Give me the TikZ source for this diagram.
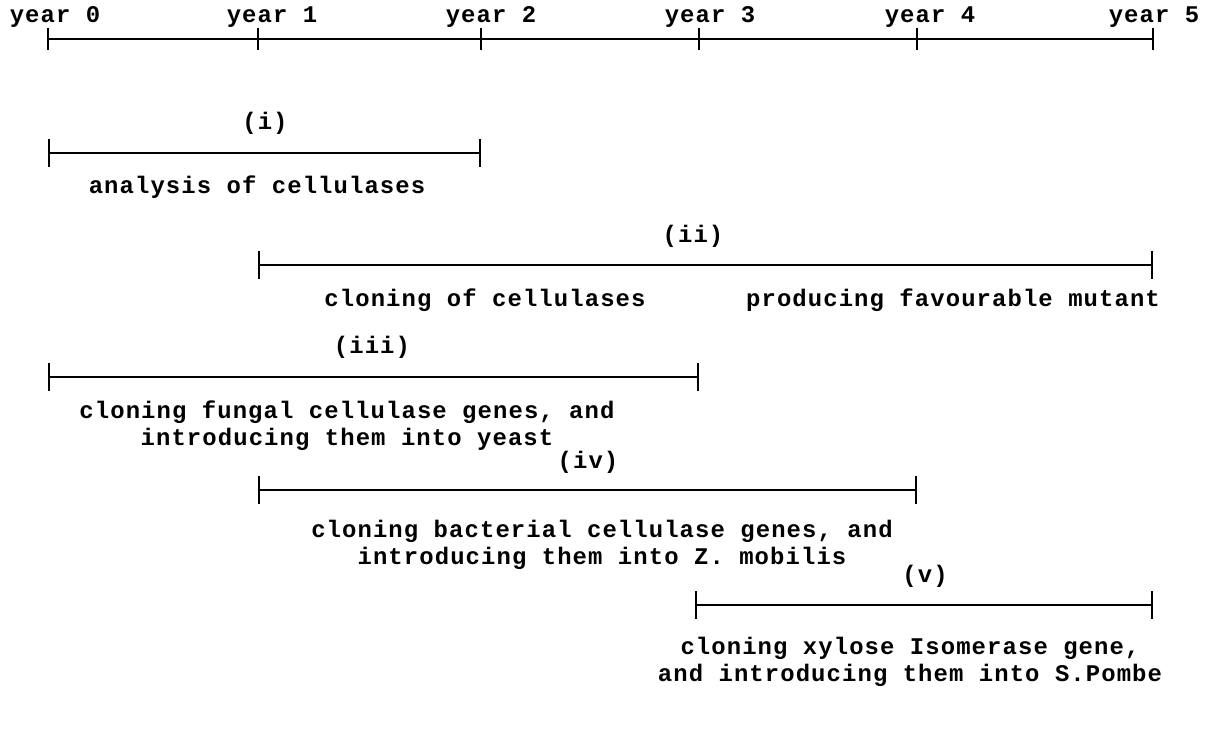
\documentclass[tikz,border=0pt]{standalone}
\usepackage{fontspec}
\setmonofont[LetterSpace=4.6]{Liberation Mono}
\usetikzlibrary{positioning, arrows.meta}

\tikzset{
  period/.style={{Bar[width=7mm]}-{Bar[width=7mm]}, line width=1.5pt},
  typed/.style={font=\ttfamily\bfseries\fontsize{17}{19}\selectfont, inner sep=0pt, align=center},
}

\begin{document}
\begin{tikzpicture}[x=0.025cm, y=-0.025cm]
\useasboundingbox (0,0) rectangle (1208,748);

% time axis
\foreach \n/\x/\lx in {0/48/55, 1/258/272, 2/481/491, 3/699/710, 4/917/930, 5/1153/1154} {
  \coordinate (y\n) at (\x,39);
  \node[typed] (yl\n) at (\lx,17) {year \n};
}
\draw[line width=1.5pt] (y0) -- (y5);
\foreach \n in {0,...,5}
  \draw[line width=1.5pt] ([yshift=8pt]y\n) -- ([yshift=-8pt]y\n);

% (i)
\coordinate (p1s) at (48,153);
\coordinate (p1e) at (481,153);
\draw[period] (p1s) -- (p1e);
\node[typed] (p1n) at (265,123) {(i)};
\node[typed] (p1t) at (257,187) {analysis of cellulases};

% (ii)
\coordinate (p2s) at (258,265);
\coordinate (p2e) at (1153,265);
\draw[period] (p2s) -- (p2e);
\node[typed] (p2n) at (693,236) {(ii)};
\node[typed] (p2a) at (485,300) {cloning of cellulases};
\node[typed] (p2b) at (953,300) {producing favourable mutant};

% (iii)
\coordinate (p3s) at (48,377);
\coordinate (p3e) at (699,377);
\draw[period] (p3s) -- (p3e);
\node[typed] (p3n) at (372,347) {(iii)};
\node[typed] (p3t) at (347,426) {cloning fungal cellulase genes, and\\introducing them into yeast};

% (iv)
\coordinate (p4s) at (258,490);
\coordinate (p4e) at (917,490);
\draw[period] (p4s) -- (p4e);
\node[typed] (p4n) at (588,462) {(iv)};
\node[typed] (p4t) at (602,545) {cloning bacterial cellulase genes, and\\introducing them into Z. mobilis};

% (v)
\coordinate (p5s) at (695,605);
\coordinate (p5e) at (1153,605);
\draw[period] (p5s) -- (p5e);
\node[typed] (p5n) at (925,576) {(v)};
\node[typed] (p5t) at (910,662) {cloning xylose Isomerase gene,\\and introducing them into S.Pombe};
\end{tikzpicture}
\end{document}
